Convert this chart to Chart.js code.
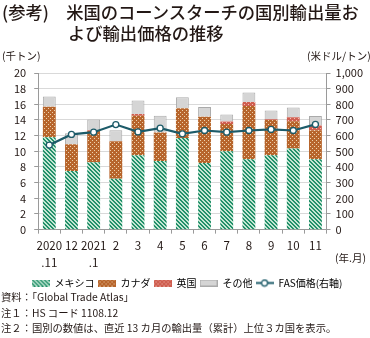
<!DOCTYPE html>
<html>
<head>
<meta charset="utf-8">
<script src="https://cdn.jsdelivr.net/npm/chart.js@4/dist/chart.umd.min.js"></script>
<style>
  body { margin: 0; background: #fff; }
  #wrap { position: relative; width: 370px; height: 338px; font-family: "Noto Sans CJK JP", sans-serif; color: #231815; }
  #wrap canvas { position: absolute; left: 0; top: 0; }
  .title { position: absolute; left: 2px; top: 1px; font-size: 17.3px; line-height: 21px; white-space: nowrap; font-weight: 500; }
  .title .l2 { padding-left: 66px; }
  .unit { position: absolute; font-size: 10.5px; white-space: nowrap; }
  .notes { position: absolute; left: 1px; top: 289px; font-size: 10.3px; line-height: 15.5px; white-space: nowrap; }
</style>
</head>
<body>
<div id="wrap">
  <canvas id="chart" width="370" height="338"></canvas>
  <div class="title">(参考)　米国のコーンスターチの国別輸出量お<br><span class="l2">よび輸出価格の推移</span></div>
  <div class="unit" style="left:2px; top:48px;">(千トン)</div>
  <div class="unit" style="left:307px; top:48px;">(米ドル/トン)</div>
  <div class="unit" style="left:335px; top:250px;">(年.月)</div>
  <div class="notes">
    資料：「Global Trade Atlas」<br>
    注１：HS コード 1108.12<br>
    注２：国別の数値は、直近 13 カ月の輸出量（累計）上位３カ国を表示。
  </div>
</div>
<script>
const months = [['2020', '.11'], '12', ['2021', '.1'], '2', '3', '4', '5', '6', '7', '8', '9', '10', '11'];
const mexico = [11.8, 7.5, 8.6, 6.5, 9.5, 8.75, 11.7, 8.5, 10.0, 9.0, 9.5, 10.35, 9.0];
const canada = [3.9, 3.4, 4.0, 4.8, 5.05, 3.65, 3.8, 5.9, 3.5, 6.8, 4.5, 3.5, 3.7];
const uk = [0, 0, 0.1, 0, 0.2, 0, 0, 0, 0.3, 0.5, 0.1, 0.5, 0.6];
const others = [1.3, 1.4, 1.35, 1.4, 1.75, 2.15, 1.4, 1.25, 0.9, 1.2, 1.1, 1.25, 1.2];
const fasPrice = [540, 608, 622, 671, 624, 648, 612, 633, 622, 633, 640, 633, 672];
const leftTicks = [0, 20, 2];
const rightTicks = [0, 1000, 100];

// 4x4 tile painted pixel by pixel, used for hatched / dotted fills
function tileCanvas(bg, fg, on) {
  const t = document.createElement('canvas');
  t.width = 4; t.height = 4;
  const g = t.getContext('2d');
  g.fillStyle = bg;
  g.fillRect(0, 0, 4, 4);
  g.fillStyle = fg;
  for (let y = 0; y < 4; y++) {
    for (let x = 0; x < 4; x++) {
      if (on(x, y)) g.fillRect(x, y, 1, 1);
    }
  }
  return t;
}

const hatch = (x, y) => ((x - y + 8) % 4) < 2;
const dots = (x, y) => (x === 0 && y === 0) || (x === 2 && y === 2);
const tiles = {
  mexico: tileCanvas('#c4e6d3', '#22906a', hatch),
  canada: tileCanvas('#b7652c', '#edd2ae', dots),
  uk: tileCanvas('#cf5e50', '#f3bdb2', dots)
};

const ctx = document.getElementById('chart').getContext('2d');
const fillMexico = ctx.createPattern(tiles.mexico, 'repeat');
const fillCanada = ctx.createPattern(tiles.canada, 'repeat');
const fillUk = ctx.createPattern(tiles.uk, 'repeat');
const lineColor = '#1d5b69';

// legend icons
function barIcon(tileOrColor, border) {
  const c = document.createElement('canvas');
  c.width = 18; c.height = 7;
  const g = c.getContext('2d');
  g.fillStyle = typeof tileOrColor === 'string' ? tileOrColor : g.createPattern(tileOrColor, 'repeat');
  g.fillRect(0, 0, 18, 7);
  if (border) {
    g.strokeStyle = border;
    g.lineWidth = 1;
    g.strokeRect(0.5, 0.5, 17, 6);
  }
  return c;
}
function lineIcon() {
  const c = document.createElement('canvas');
  c.width = 18; c.height = 9;
  const g = c.getContext('2d');
  g.strokeStyle = lineColor;
  g.lineWidth = 2;
  g.beginPath(); g.moveTo(0, 4.5); g.lineTo(18, 4.5); g.stroke();
  g.fillStyle = '#fff';
  g.lineWidth = 1.3;
  g.beginPath(); g.arc(9, 4.5, 3, 0, Math.PI * 2); g.fill(); g.stroke();
  return c;
}
const icons = [
  barIcon(tiles.mexico),
  barIcon(tiles.canada),
  barIcon(tiles.uk),
  barIcon('#d5d5d5', '#aaaaaa'),
  lineIcon()
];

const tickFont = { family: '"Noto Sans CJK JP", sans-serif', size: 11 };

new Chart(ctx, {
  type: 'bar',
  data: {
    labels: months,
    datasets: [
      { label: 'メキシコ', data: mexico, backgroundColor: fillMexico, stack: 's', order: 1 },
      { label: 'カナダ', data: canada, backgroundColor: fillCanada, stack: 's', order: 1 },
      { label: '英国', data: uk, backgroundColor: fillUk, stack: 's', order: 1 },
      { label: 'その他', data: others, backgroundColor: '#d5d5d5', borderColor: '#aaaaaa', borderWidth: 1, stack: 's', order: 1 },
      {
        type: 'line', label: 'FAS価格(右軸)', data: fasPrice, yAxisID: 'y1', order: 0,
        borderColor: lineColor, borderWidth: 2.2, pointRadius: 3, pointBorderWidth: 1.3,
        pointBackgroundColor: '#fff', pointBorderColor: lineColor, tension: 0
      }
    ]
  },
  options: {
    responsive: false,
    animation: false,
    datasets: { bar: { categoryPercentage: 1, barPercentage: 0.58 } },
    layout: { padding: { top: 73, left: 6, right: 2, bottom: 40 } },
    scales: {
      x: {
        stacked: true,
        grid: { drawOnChartArea: false, tickLength: 4, tickColor: '#9a9a9a' },
        border: { color: '#9a9a9a' },
        ticks: { color: '#231815', font: { ...tickFont, size: 11.5, lineHeight: 1.45 }, maxRotation: 0, autoSkip: false, padding: 4 }
      },
      y: {
        stacked: true,
        min: leftTicks[0], max: leftTicks[1],
        grid: { color: '#d9d9d9', tickLength: 4, tickColor: '#9a9a9a' },
        border: { color: '#9a9a9a' },
        ticks: { stepSize: leftTicks[2], autoSkip: false, color: '#231815', font: tickFont, padding: 8 }
      },
      y1: {
        position: 'right',
        min: rightTicks[0], max: rightTicks[1],
        grid: { drawOnChartArea: false, tickLength: 4, tickColor: '#9a9a9a' },
        border: { color: '#9a9a9a' },
        ticks: { stepSize: rightTicks[2], autoSkip: false, color: '#231815', font: tickFont, padding: 5,
          callback: v => v.toLocaleString('en-US') }
      }
    },
    plugins: {
      tooltip: { enabled: false },
      legend: {
        position: 'bottom',
        labels: {
          usePointStyle: true,
          pointStyleWidth: 18,
          padding: 3,
          color: '#231815',
          font: { family: '"Noto Sans CJK JP", sans-serif', size: 10 },
          generateLabels: chart => chart.data.datasets.map((ds, i) => ({
            text: ds.label, pointStyle: icons[i], datasetIndex: i,
            fillStyle: 'transparent', strokeStyle: 'transparent', lineWidth: 0, hidden: false
          })),
          sort: (a, b) => a.datasetIndex - b.datasetIndex
        }
      }
    }
  }
});
</script>
</body>
</html>
